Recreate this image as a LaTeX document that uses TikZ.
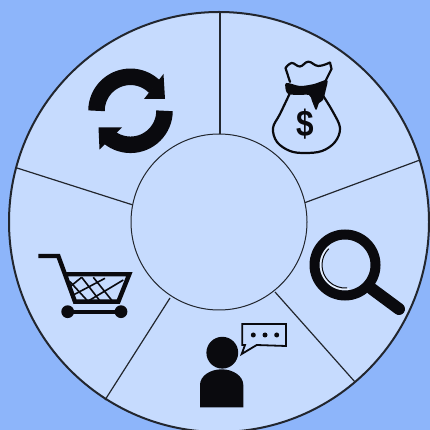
\documentclass[tikz,border=0pt]{standalone}
\usepackage{fontspec}
\setmainfont{Liberation Sans}
\definecolor{bgblue}{HTML}{8DB5FA}
\definecolor{wheelblue}{HTML}{C6DBFE}
\definecolor{ink}{HTML}{0A0A0E}
\definecolor{linegrey}{HTML}{22262E}
\definecolor{shine}{HTML}{E6F0FF}
\tikzset{
  spoke/.style={draw=linegrey,line width=1.2pt},
  iconline/.style={draw=ink,line join=round,line cap=round},
  iconfill/.style={fill=ink,draw=none}
}
\begin{document}
\begin{tikzpicture}[x=1pt,y=1pt]
\useasboundingbox (0,0) rectangle (430,430);
\clip (0,0) rectangle (430,430);
\fill[bgblue] (0,0) rectangle (430,430);
% wheel
\coordinate (c) at (219,208);
\draw[fill=wheelblue,draw=linegrey,line width=2pt] (c) circle (210);
\draw[spoke] (220,418) -- (220,295);
\draw[spoke] (420,270) -- (304,227);
\draw[spoke] (355,48) -- (275,138);
\draw[spoke] (105,30) -- (170,132);
\draw[spoke] (17,262) -- (133,225);
\draw[fill=wheelblue,draw=linegrey,line width=1pt] (c) circle (88);
% cycle icon
\draw[ink,line width=16.5pt] (96.5,319.2) arc[start angle=180,end angle=45,radius=34];
\fill[iconfill] (163.5,356) -- (165,331) -- (144,331) -- cycle;
\draw[ink,line width=16.5pt] (164.5,319.2) arc[start angle=0,end angle=-135,radius=34];
\fill[iconfill] (98.5,302.5) -- (122,302.5) -- (99.5,280.5) -- cycle;
% money bag
\draw[iconline,line width=2.2pt,fill=wheelblue] plot[smooth,tension=.6] coordinates {(290,337) (280,316) (273,302) (277,288) (290,279) (305,277) (322,279) (335,288) (340,302) (333,318) (322,336)};
\draw[iconline,line width=2.2pt] (290,348) -- (285.5,362) plot[smooth,tension=.7] coordinates {(285.5,362) (291.7,367) (300,363.5) (308.3,368.3) (318.3,364) (330,367.5)} (330,367.5) -- (331.5,361) -- (325,348);
\fill[iconfill] plot[smooth cycle,tension=.5] coordinates {(286,347) (300,344) (314,346) (327,350) (326,341) (323,330) (319,327) (316,320) (312,329) (309,335) (296,335) (287,337)};
\node[inner sep=0pt,text=ink,font=\bfseries\fontsize{37}{37}\selectfont,xscale=.85] (dollar) at (305,306) {\$};
% cart
\draw[iconline,line width=4.4pt,line cap=butt,line join=miter] (38.3,174) -- (58.3,174) -- (75,128.3) -- (118.3,128.3) -- (129.3,155.7) -- (66.7,155.7);
\draw[ink,line width=1.6pt] (70,148.3) -- (88.3,128.3) (81.7,152.7) -- (100,129) (93.3,152.7) -- (112.3,129);
\draw[ink,line width=1.6pt] (70,143.3) -- (81.7,152.7) (73.3,135) -- (105,151.7) (88.3,129) -- (123.3,150);
\fill[iconfill] (67.7,118.3) circle (6.4) (121,118.3) circle (6.4);
\draw[ink,line width=4pt] (67.7,118.3) -- (121,118.3);
% person
\fill[iconfill] (222.3,77.3) circle (15.9);
\fill[iconfill] (200,22.7) -- (243.3,22.7) -- (243.3,45) .. controls (243.3,54) and (233,60.7) .. (221.7,60.7) .. controls (210,60.7) and (200,54) .. (200,45) -- cycle;
\draw[draw=ink,line width=1.8pt,line join=miter] (242.3,106) -- (286,106) -- (286,84) -- (256.7,85) -- (241.7,76) -- (245,85) -- (242.3,85) -- cycle;
\fill[iconfill] (253.3,95) circle (2.5) (265,95) circle (2.5) (276.7,95) circle (2.5);
% magnifier
\draw[shine,line width=2pt] (345,165) ++(130:24.5) arc[start angle=130,end angle=280,radius=24.5];
\draw[ink,line width=1pt] (345,165) ++(135:23) arc[start angle=135,end angle=275,radius=23];
\draw[ink,line width=10pt] (345,165) circle (30.5);
\draw[ink,line width=12pt,line cap=round] (372,141) -- (399,121);
\end{tikzpicture}
\end{document}
